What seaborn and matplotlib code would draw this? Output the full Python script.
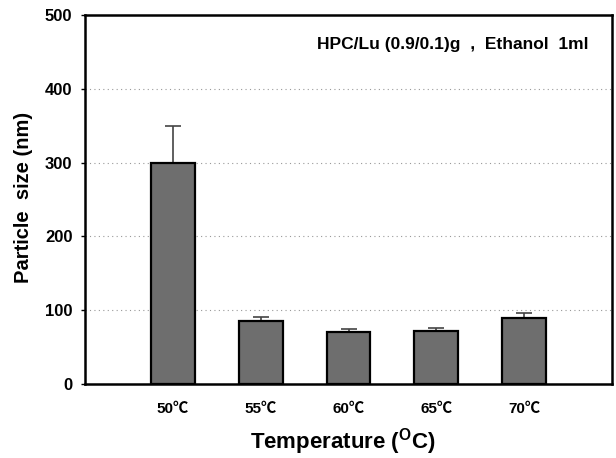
import matplotlib
matplotlib.use("Agg")
import matplotlib.pyplot as plt
import seaborn as sns
import pandas as pd

# Particle size vs. preparation temperature
temperatures = ["50℃", "55℃", "60℃", "65℃", "70℃"]
particle_size = [300, 85, 70, 72, 90]
size_error = [50, 6, 4.5, 4.5, 6]

sns.set_theme(style="white")
plt.rcParams["font.family"] = ["Liberation Sans", "Noto Sans CJK KR", "DejaVu Sans"]
plt.rcParams["text.color"] = "black"
plt.rcParams["axes.labelcolor"] = "black"
plt.rcParams["xtick.color"] = "black"
plt.rcParams["ytick.color"] = "black"
plt.rcParams["mathtext.fontset"] = "custom"
plt.rcParams["mathtext.rm"] = "Liberation Sans:bold"

df = pd.DataFrame({"Temperature": temperatures, "Size": particle_size})

fig = plt.figure(figsize=(6.16, 4.58), dpi=100)
ax = fig.add_axes([0.138, 0.1616, 0.8555, 0.8054])

sns.barplot(data=df, x="Temperature", y="Size", ax=ax, color="#6e6e6e",
            saturation=1, width=0.5, edgecolor="black", linewidth=1.6,
            errorbar=None, zorder=3)

ax.errorbar(range(len(temperatures)), particle_size,
            yerr=[[0] * len(size_error), size_error], fmt="none",
            ecolor="#444444", elinewidth=1.2, capsize=6, capthick=1.2, zorder=2)

ax.set_xlim(-1, len(temperatures))
ax.set_ylim(0, 500)
ax.set_yticks([0, 100, 200, 300, 400, 500])
ax.yaxis.grid(True, linestyle=(0, (1, 3)), color="#999999", linewidth=0.8)
ax.set_axisbelow(True)

for sp in ax.spines.values():
    sp.set_visible(True)
    sp.set_color("black")
    sp.set_linewidth(1.8)

ax.tick_params(axis="y", left=True, length=3, width=1, labelsize=12, pad=6)
ax.tick_params(axis="x", bottom=False, labelsize=11, pad=7)
for lbl in ax.get_xticklabels() + ax.get_yticklabels():
    lbl.set_fontweight("bold")

ax.set_xlabel(r"Temperature ($\mathregular{^{O}}$C)", fontsize=16, fontweight="bold")
ax.xaxis.set_label_coords(0.49, -0.113)
ax.set_ylabel("Particle  size (nm)", fontsize=14.5, fontweight="bold")
ax.yaxis.set_label_coords(-0.099, 0.505)

ax.text(0.955, 0.92, "HPC/Lu (0.9/0.1)g  ,  Ethanol  1ml", transform=ax.transAxes,
        ha="right", va="center", fontsize=12.5, fontweight="bold")

fig.savefig("out.png", dpi=100)
